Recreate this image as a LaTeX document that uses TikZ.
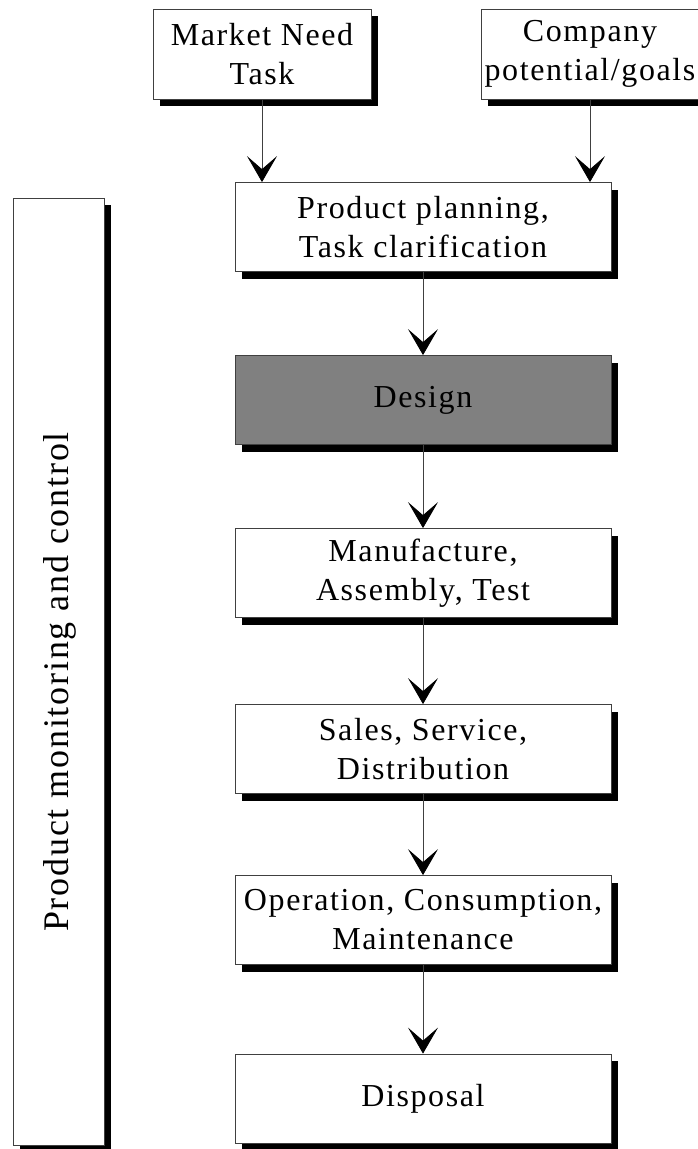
\documentclass[tikz,border=0pt]{standalone}
\usepackage{fontspec}
\setmainfont{Liberation Serif}[LetterSpace=5]
\usetikzlibrary{arrows.meta,shadows}
\tikzset{
  stagebox/.style={draw=black!75, line width=0.8pt, fill=white, align=center,
    minimum width=376pt, minimum height=89pt, inner sep=0pt,
    font=\fontsize{32}{39}\selectfont,
    drop shadow={shadow xshift=7pt, shadow yshift=-7pt, opacity=1, fill=black}},
  inputbox/.style={stagebox, minimum width=218pt, minimum height=90pt},
  flowarrow/.style={draw=black!75, line width=0.8pt,
    -{Stealth[length=26pt, width=30pt, inset=13pt, black]}}
}
\begin{document}
\begin{tikzpicture}[x=1pt, y=-1pt]
    \useasboundingbox (0,0) rectangle (698,1149);
    % Inputs
    \node[inputbox] (market) at (262,54) {Market Need\\Task};
    \node[inputbox] (company) at (590,54) {Company\\potential/goals};
    % Stages
    \node[stagebox] (planning) at (423,227) {Product planning,\\Task clarification};
    \node[stagebox, fill=black!50] (design) at (423,400) {Design};
    \node[stagebox] (manufacture) at (423,573) {Manufacture,\\Assembly, Test};
    \node[stagebox] (sales) at (423,749) {Sales, Service,\\Distribution};
    \node[stagebox] (operation) at (423,920) {Operation, Consumption,\\Maintenance};
    \node[stagebox] (disposal) at (423,1098.5) {Disposal};
    % Side panel
    \node[stagebox, minimum width=91pt, minimum height=947pt] (monitor) at (58.5,671.5) {};
    \node[rotate=90, font=\fontsize{36}{40}\selectfont] (monitortext) at (60,682) {Product monitoring and control};
    % Arrows
    \draw[flowarrow] (market.south) -- (market.south |- planning.north);
    \draw[flowarrow] (company.south) -- (company.south |- planning.north);
    \draw[flowarrow] (planning) -- (design);
    \draw[flowarrow] (design) -- (manufacture);
    \draw[flowarrow] (manufacture) -- (sales);
    \draw[flowarrow] (sales) -- (operation);
    \draw[flowarrow] (operation) -- (disposal);
\end{tikzpicture}
\end{document}
